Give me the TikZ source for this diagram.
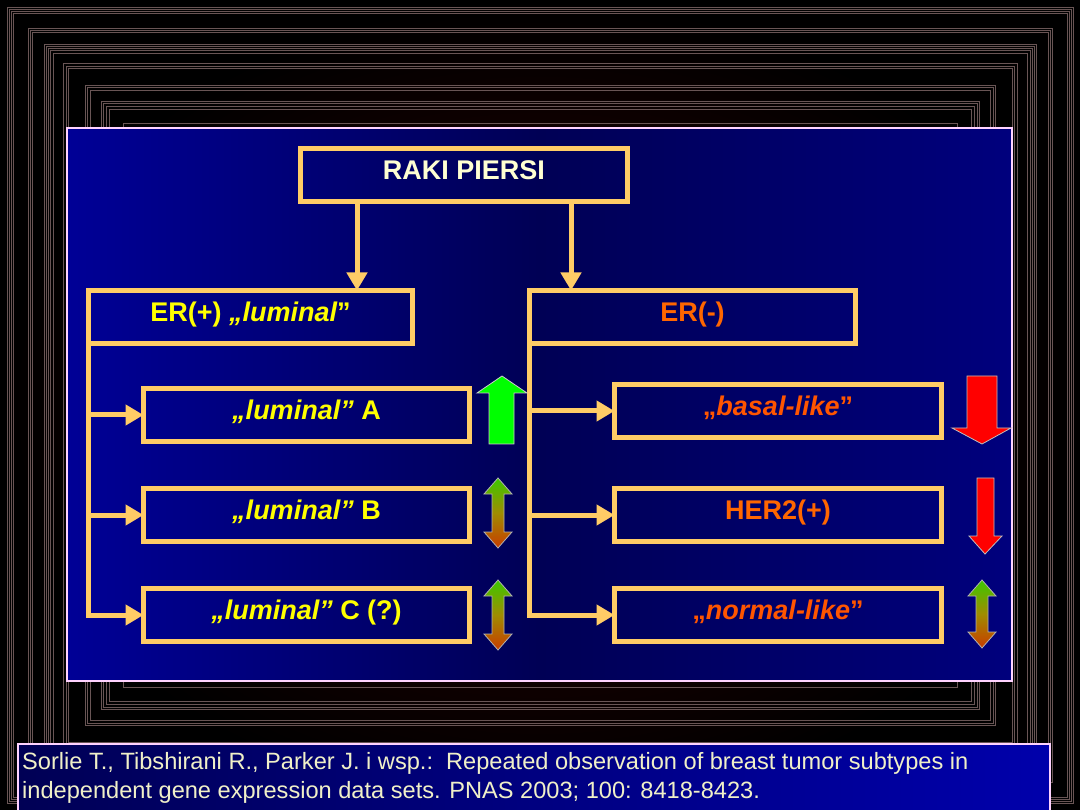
\documentclass[tikz,border=0pt]{standalone}
\usepackage{fontspec}
\setmainfont{Liberation Sans}
\usetikzlibrary{arrows.meta,positioning,calc}
\definecolor{boxline}{RGB}{255,204,102}
\definecolor{panelrim}{RGB}{255,210,255}
\definecolor{frameline}{RGB}{105,85,85}
\definecolor{maroon}{RGB}{45,0,0}
\definecolor{navyL}{RGB}{0,0,150}
\definecolor{navyM}{RGB}{0,0,85}
\definecolor{navyR}{RGB}{0,0,125}
\definecolor{lumtext}{RGB}{255,255,0}
\definecolor{ertext}{RGB}{255,102,0}
\definecolor{subtext}{RGB}{255,85,0}
\definecolor{titletext}{RGB}{255,255,210}
\definecolor{citetext}{RGB}{240,240,200}
\definecolor{upgreen}{RGB}{0,255,0}
\definecolor{mixgreen}{RGB}{60,200,0}
\definecolor{mixolive}{RGB}{160,140,0}
\definecolor{mixred}{RGB}{200,60,0}
\begin{document}
\begin{tikzpicture}[x=1pt,y=-1pt,
  box/.style={draw=boxline,line width=5pt,outer sep=0pt,minimum height=53pt,
    text height=19.5pt,text depth=10pt,
    align=center,font=\fontsize{27}{32}\selectfont\bfseries},
  arr/.style={-{Triangle[length=18pt,width=20pt]},line width=5pt,boxline},
  frame/.style={frameline,line width=0.8pt},
  updown/.style={draw=gray!60,line width=0.8pt,top color=mixgreen,bottom color=mixred,middle color=mixolive}]
  \useasboundingbox (0,0) rectangle (1080,810);
  % background with its frame lines
  \shade[inner color=maroon,outer color=black] (0,0) rectangle (1080,810);
  \foreach \d in {7,9,11,13,28,30,32,44,46,48,50,53,63,66,68,85,87,90,101,103,106,109,123}
    \draw[frame] (\d,\d) rectangle ({1080-\d},{810-\d});
  % main panel
  \shade[left color=navyL,right color=navyR,middle color=navyM] (67,128) rectangle (1012,681);
  \draw[panelrim,line width=1.2pt] (67,128) rectangle (1012,681);
  % boxes
  \node[box,minimum width=327pt,text=titletext] (raki) at (464,175) {RAKI PIERSI};
  \node[box,minimum width=324pt,text=lumtext] (erp) at (250.5,317) {ER(+) {\itshape „luminal}”};
  \node[box,minimum width=326pt,text=ertext] (erm) at (692.5,317) {ER(-)};
  \node[box,minimum width=326pt,text=lumtext] (lumA) at (306.5,415) {{\itshape „luminal”} A};
  \node[box,minimum width=326pt,text=lumtext] (lumB) at (306.5,515) {{\itshape „luminal”} B};
  \node[box,minimum width=326pt,text=lumtext] (lumC) at (306.5,615) {{\itshape „luminal”} C (?)};
  \node[box,minimum width=327pt,text=subtext] (basal) at (778,411) {„{\itshape basal-like}”};
  \node[box,minimum width=327pt,text=ertext] (her) at (778,515) {HER2(+)};
  \node[box,minimum width=327pt,text=subtext] (normal) at (778,615) {„{\itshape normal-like}”};
  % connectors
  \draw[arr] ([xshift=56.5pt]raki.south west) -- ([xshift=56.5pt]raki.south west |- erp.north);
  \draw[arr] ([xshift=-56.5pt]raki.south east) -- ([xshift=-56.5pt]raki.south east |- erm.north);
  \draw[arr] (erp.south west) |- (lumC.west);
  \draw[arr] (erp.south west |- lumA.west) -- (lumA.west);
  \draw[arr] (erp.south west |- lumB.west) -- (lumB.west);
  \draw[arr] (erm.south west) |- (normal.west);
  \draw[arr] (erm.south west |- basal.west) -- (basal.west);
  \draw[arr] (erm.south west |- her.west) -- (her.west);
  % trend arrows
  \draw[fill=upgreen,draw=gray!40,line width=0.8pt] (502,376) -- (527,393) -- (514,393) -- (514,444)
    -- (489,444) -- (489,393) -- (477,393) -- cycle;
  \foreach \yy in {0,102}
    \shade[updown,yshift=-\yy pt] (498,478) -- (512,494) -- (504,494) -- (504,532) -- (512,532)
      -- (498,548) -- (484,532) -- (492,532) -- (492,494) -- (484,494) -- cycle;
  \shade[updown] (982,580) -- (996,596) -- (988,596) -- (988,632) -- (996,632)
    -- (982,648) -- (968,632) -- (976,632) -- (976,596) -- (968,596) -- cycle;
  \draw[fill=red,draw=gray!50,line width=0.8pt] (967,376) -- (997,376) -- (997,428) -- (1011,428)
    -- (982,444) -- (952,428) -- (967,428) -- cycle;
  \draw[fill=red,draw=gray!50,line width=0.8pt] (977,478) -- (994,478) -- (994,536) -- (1002,536)
    -- (985,554) -- (969,536) -- (977,536) -- cycle;
  % citation panel
  \shade[left color=navyM,right color=navyL!80!blue] (18,744) rectangle (1050,812);
  \draw[panelrim,line width=1.2pt] (18,744) rectangle (1050,812);
  \node[anchor=north west,inner sep=0pt,align=left,text=citetext,
    font=\fontsize{23.6}{29}\selectfont] (cite) at (22,752)
    {Sorlie T., Tibshirani R., Parker J. i wsp.:\ \ Repeated observation of breast tumor subtypes in\\
     independent gene expression data sets. PNAS 2003; 100: 8418-8423.};
\end{tikzpicture}
\end{document}
